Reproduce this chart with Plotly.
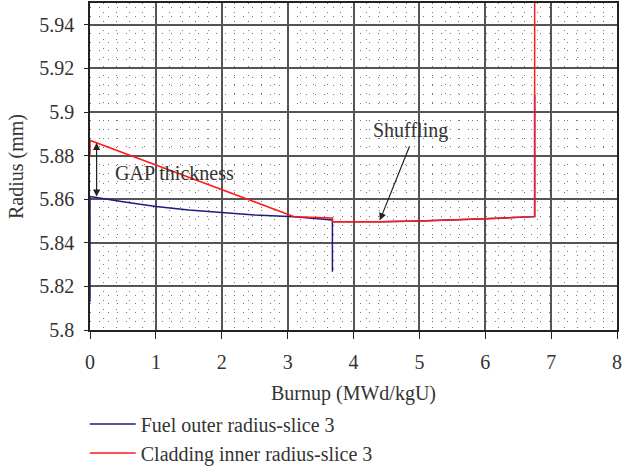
import plotly.graph_objects as go

# Fuel outer radius, slice 3
fuel_burnup = [0, 0, 0.5, 1.0, 1.5, 2.0, 2.5, 3.1, 3.68, 3.68, 3.68, 4.4, 5.0, 6.0, 6.75, 6.75]
fuel_radius = [5.813, 5.8612, 5.8588, 5.8566, 5.8550, 5.8538, 5.8528, 5.8520, 5.8505, 5.8267, 5.8497,
               5.8497, 5.8500, 5.8510, 5.8520, 5.9080]

# Cladding inner radius, slice 3
clad_burnup = [0, 0, 1.0, 2.0, 3.1, 3.68, 3.68, 4.4, 5.0, 6.0, 6.75, 6.75]
clad_radius = [5.880, 5.887, 5.8757, 5.8644, 5.8520, 5.8514, 5.8497, 5.8497, 5.8500, 5.8510, 5.8520, 5.960]

x_ticks = [0, 1, 2, 3, 4, 5, 6, 7, 8]
y_ticks = [5.80, 5.82, 5.84, 5.86, 5.88, 5.90, 5.92, 5.94]
y_tick_text = ["5.8", "5.82", "5.84", "5.86", "5.88", "5.9", "5.92", "5.94"]

FONT = "Liberation Serif"
TXT = "#333333"
GRID = "#555555"
FS = 20

fig = go.Figure()
fig.add_trace(go.Scatter(x=fuel_burnup, y=fuel_radius, mode="lines",
                         line=dict(color="#1c1c80", width=1.5),
                         name="Fuel outer radius-slice 3"))
fig.add_trace(go.Scatter(x=clad_burnup, y=clad_radius, mode="lines",
                         line=dict(color="#ff1a1a", width=1.5),
                         name="Cladding inner radius-slice 3"))

# GAP thickness double arrow
fig.add_annotation(x=0.1, y=5.8612, ax=0.1, ay=5.8866, xref="x", yref="y", axref="x", ayref="y",
                   text="", showarrow=True, arrowhead=2, arrowside="end+start",
                   arrowwidth=1.2, arrowsize=1.2, arrowcolor="#222222")
fig.add_annotation(x=0.35, y=5.8722, xref="x", yref="y", text="GAP thickness",
                   showarrow=False, xanchor="left", font=dict(family=FONT, size=FS, color=TXT))

# Shuffling arrow
fig.add_annotation(x=4.4, y=5.8503, ax=4.86, ay=5.8850, xref="x", yref="y", axref="x", ayref="y",
                   text="", showarrow=True, arrowhead=2, arrowwidth=1.2, arrowsize=1.2,
                   arrowcolor="#222222")
fig.add_annotation(x=4.86, y=5.8917, xref="x", yref="y", text="Shuffling",
                   showarrow=False, font=dict(family=FONT, size=FS, color=TXT))

fig.update_xaxes(range=[0, 8], tickvals=x_ticks, ticks="outside", ticklen=7, tickcolor="#222222",
                 ticklabelstandoff=6,
                 showline=True, linecolor="#222222", linewidth=1.5, mirror=True,
                 showgrid=True, gridcolor=GRID, gridwidth=1.5, zeroline=False,
                 minor=dict(tick0=0, dtick=0.2, showgrid=True, gridcolor="#777777",
                            griddash="1px,8px", gridwidth=1),
                 title=dict(text="Burnup (MWd/kgU)", font=dict(family=FONT, size=FS, color=TXT),
                            standoff=14),
                 automargin=False,
                 tickfont=dict(family=FONT, size=FS, color=TXT))
fig.update_yaxes(range=[5.8, 5.95], tickvals=y_ticks, ticktext=y_tick_text, ticks="outside", ticklen=4,
                 tickcolor="#222222", ticklabelstandoff=6,
                 showline=True, linecolor="#222222", linewidth=1.5, mirror=True,
                 showgrid=True, gridcolor=GRID, gridwidth=1.5, zeroline=False,
                 minor=dict(tick0=5.8, dtick=0.004, showgrid=True, gridcolor="#777777",
                            griddash="1px,8px", gridwidth=1),
                 title=dict(text="Radius (mm)", font=dict(family=FONT, size=FS, color=TXT),
                            standoff=10),
                 automargin=False,
                 tickfont=dict(family=FONT, size=FS, color=TXT))

fig.update_layout(width=622, height=467,
                  margin=dict(l=90, r=5, t=3, b=137, autoexpand=False),
                  paper_bgcolor="white", plot_bgcolor="white",
                  legend=dict(x=-0.01, y=-0.228, xanchor="left", yanchor="top",
                              font=dict(family=FONT, size=FS, color=TXT),
                              tracegroupgap=0, itemwidth=46))

fig.write_html("out.html")
